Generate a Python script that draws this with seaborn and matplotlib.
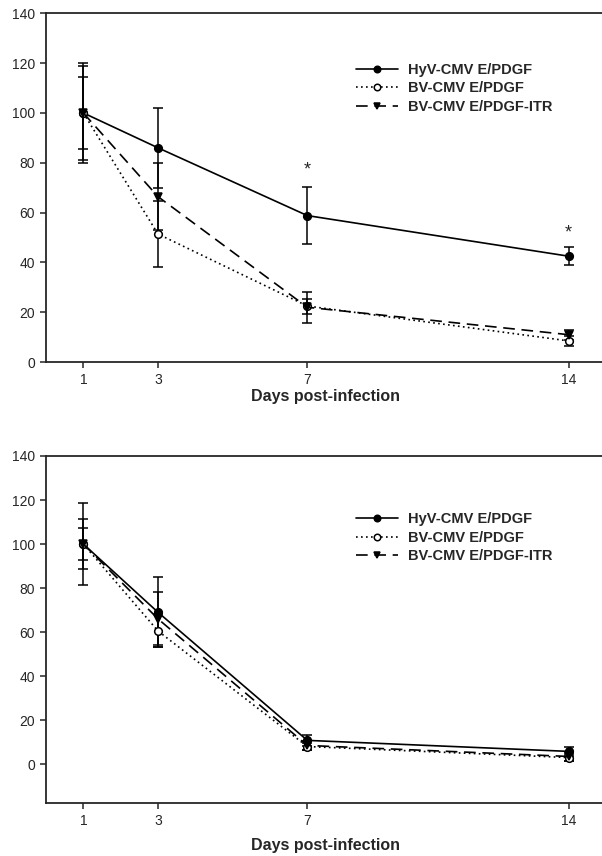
import seaborn as sns
import matplotlib.pyplot as plt
import pandas as pd

days = [1, 3, 7, 14]
series = ["HyV-CMV E/PDGF", "BV-CMV E/PDGF", "BV-CMV E/PDGF-ITR"]

# panel A
top_hyv = [100, 86, 58.8, 42.5]
top_hyv_err = [20, 16, 11.5, 3.7]
top_bv = [100, 51.4, 22.5, 8.5]
top_bv_err = [19, 13.4, 3, 2]
top_itr = [100, 66.4, 22, 11]
top_itr_err = [14.5, 13.4, 6.2, 2]
stars_x = [7, 14]
stars_y = [77, 52]

# panel B
bot_hyv = [100, 69, 10.8, 5.8]
bot_hyv_err = [7.4, 16, 2.4, 2]
bot_bv = [100, 60.5, 8, 3]
bot_bv_err = [18.6, 7.5, 1.5, 1.5]
bot_itr = [100, 66, 8.5, 3.5]
bot_itr_err = [11.2, 12, 2, 2]

sns.set_style("ticks")
plt.rcParams['font.family'] = ['Liberation Sans', 'DejaVu Sans']

styles = {
    "HyV-CMV E/PDGF": dict(marker="o", linestyle="-", markerfacecolor="black"),
    "BV-CMV E/PDGF": dict(marker="o", linestyle=(0, (1, 2)), markerfacecolor="white"),
    "BV-CMV E/PDGF-ITR": dict(marker="v", linestyle=(0, (7, 4)), markerfacecolor="black"),
}

fig = plt.figure(figsize=(6.02, 8.56), dpi=100)
ax1 = fig.add_axes([0.0764, 0.577, 0.9302, 0.4075])
ax2 = fig.add_axes([0.0764, 0.0623, 0.9302, 0.405])


def draw(ax, vals, errs, ylim, leg_y, lpad):
    for name, v, e in zip(series, vals, errs):
        df = pd.DataFrame({"day": days, "val": v})
        ax.errorbar(days, v, yerr=e, fmt="none", ecolor="black",
                    elinewidth=1.1, capsize=3.8, capthick=1.1, zorder=2)
        sns.lineplot(data=df, x="day", y="val", ax=ax, color="black",
                     markeredgecolor="black", markersize=5.5, markeredgewidth=1.1,
                     linewidth=1.2, label=name, zorder=3, **styles[name])
    ax.set_xlim(0, 15)
    ax.set_ylim(*ylim)
    ax.set_xticks(days)
    ax.set_yticks(range(0, 141, 20))
    ax.tick_params(labelsize=10, length=4.5, width=1.1, direction="out", pad=3.5)
    for s in ax.spines.values():
        s.set_linewidth(1.3)
    ax.set_ylabel("")
    ax.set_xlabel("Days post-infection", fontsize=11.5, fontweight="bold", labelpad=lpad)
    ax.legend(loc="upper left", bbox_to_anchor=(0.5536, leg_y), frameon=False,
              borderaxespad=0, borderpad=0, markerscale=0.85,
              handlelength=2.9, handletextpad=0.7, labelspacing=0.32,
              prop={"size": 10.5, "weight": "bold"})


draw(ax1, [top_hyv, top_bv, top_itr], [top_hyv_err, top_bv_err, top_itr_err],
     (0, 140), 0.858, 1)
for sx, sy in zip(stars_x, stars_y):
    ax1.text(sx, sy, "*", ha="center", va="center", fontsize=13)

draw(ax2, [bot_hyv, bot_bv, bot_itr], [bot_hyv_err, bot_bv_err, bot_itr_err],
     (-17.5, 140), 0.8386, 7)

fig.savefig("out.png", dpi=100)
